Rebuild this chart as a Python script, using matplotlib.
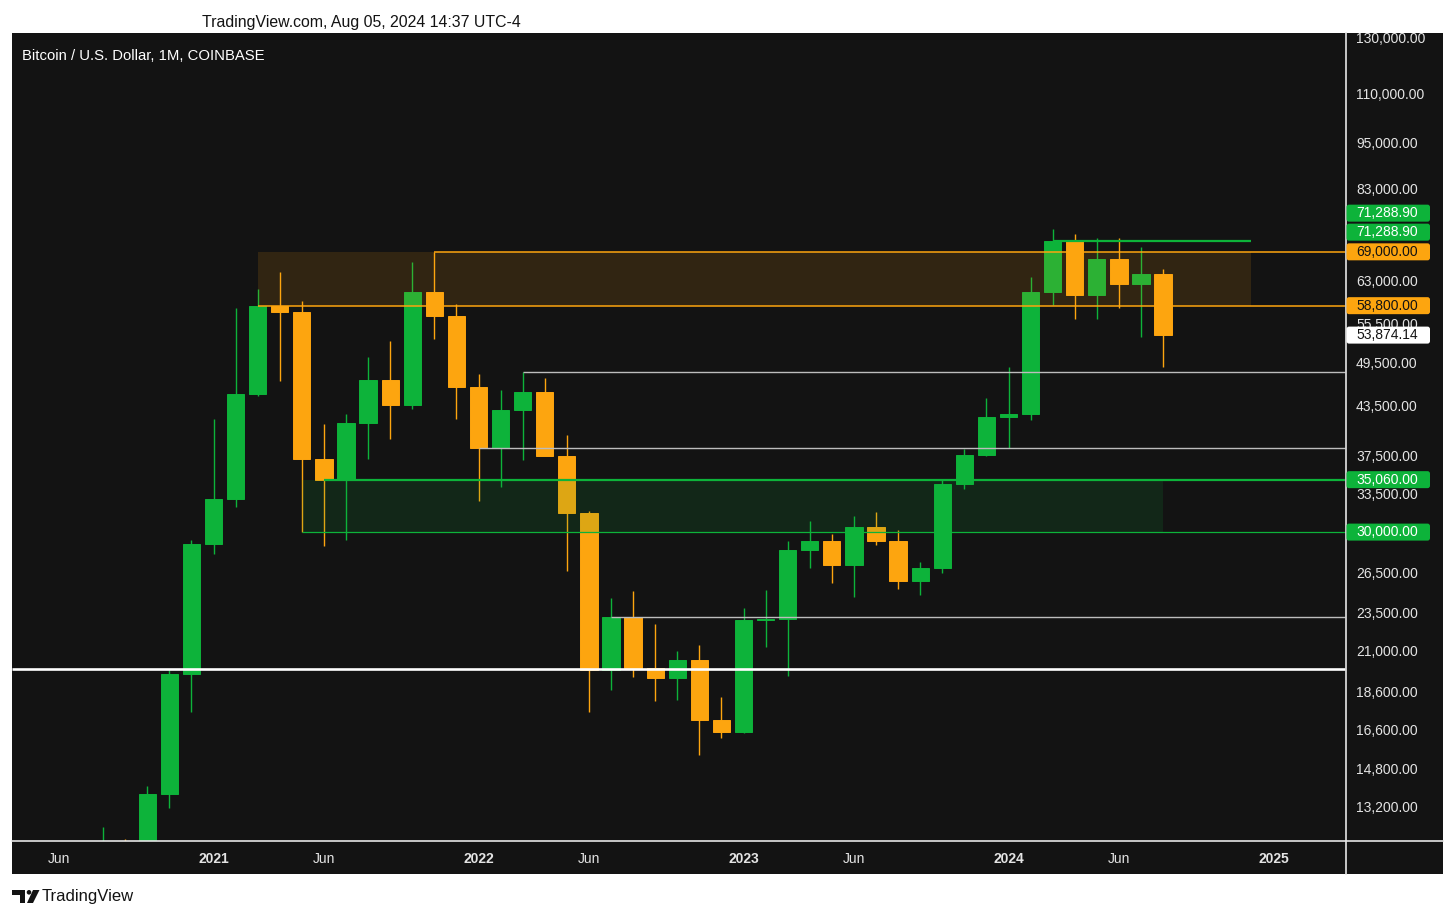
import matplotlib
matplotlib.use('Agg')
import matplotlib.pyplot as plt
import numpy as np
from matplotlib.patches import Rectangle, FancyBboxPatch, Polygon, Circle
from matplotlib.lines import Line2D
from matplotlib.transforms import IdentityTransform, blended_transform_factory

plt.rcParams['font.family'] = ['Liberation Sans', 'DejaVu Sans']

# ---------------- data (BTC/USD monthly, Coinbase) ----------------
months = ['2020-06', '2020-07', '2020-08', '2020-09', '2020-10', '2020-11', '2020-12',
          '2021-01', '2021-02', '2021-03', '2021-04', '2021-05', '2021-06', '2021-07',
          '2021-08', '2021-09', '2021-10', '2021-11', '2021-12',
          '2022-01', '2022-02', '2022-03', '2022-04', '2022-05', '2022-06', '2022-07',
          '2022-08', '2022-09', '2022-10', '2022-11', '2022-12',
          '2023-01', '2023-02', '2023-03', '2023-04', '2023-05', '2023-06', '2023-07',
          '2023-08', '2023-09', '2023-10', '2023-11', '2023-12',
          '2024-01', '2024-02', '2024-03', '2024-04', '2024-05', '2024-06', '2024-07',
          '2024-08']
opens = [9445, 9137, 11335, 11644, 10777, 13783, 19700,
         28990, 33114, 45161, 58786, 57720, 37298, 35060,
         41460, 47130, 43824, 61318, 57005,
         46217, 38466, 43178, 45525, 37644, 31792, 19926,
         23297, 20050, 19423, 20490, 17166,
         16542, 23130, 23147, 28475, 29250, 27216, 30472,
         29232, 25940, 26967, 34650, 37723,
         42280, 42580, 61180, 71289, 60640, 67500, 62700,
         64620]
highs = [10380, 11444, 12473, 12066, 14100, 19918, 29300,
         41950, 58367, 61788, 64895, 59592, 41330, 42600,
         50500, 52920, 67000, 69000, 59100,
         47990, 45821, 48240, 47444, 40023, 31982, 24668,
         25212, 22800, 21085, 21480, 18388,
         23960, 25250, 29190, 31000, 29820, 31431, 31862,
         30222, 27484, 35000, 38432, 44729,
         48970, 64000, 73835, 72800, 71950, 71980, 70000,
         65600]
lows = [8900, 8977, 10966, 9825, 10380, 13200, 17572,
        28130, 32300, 44960, 47044, 30000, 28800, 29278,
        37332, 39600, 43300, 53256, 42000,
        32950, 34322, 37155, 37702, 26700, 17592, 18781,
        19520, 18153, 18190, 15476, 16256,
        16500, 21350, 19568, 26942, 25811, 24750, 28862,
        25333, 24901, 26540, 34100, 37640,
        38501, 41880, 59000, 56500, 56555, 58400, 53500,
        49000]
closes = [9137, 11335, 11644, 10777, 13783, 19700, 28990,
          33114, 45161, 58786, 57720, 37298, 35060, 41460,
          47130, 43824, 61318, 57005, 46217,
          38466, 43178, 45525, 37644, 31792, 19926, 23297,
          20050, 19423, 20490, 17166, 16542,
          23130, 23147, 28475, 29250, 27216, 30472, 29232,
          25940, 26967, 34650, 37723, 42280,
          42580, 61180, 71289, 60640, 67500, 62700, 64620,
          53874.14]

# drawings: zones (start month, end month, low, high)
zone_start = ['2021-03', '2021-05']
zone_end = ['2024-12', '2024-08']
zone_low = [58800, 30000]
zone_high = [69000, 35060]
# horizontal rays (start month, price)
ray_start = ['2021-11', '2021-03', '2021-06', '2021-05', '2022-03', '2022-01', '2022-07']
ray_price = [69000, 58800, 35060, 30000, 48240, 38466, 23297]
seg_start, seg_end, seg_price = '2024-03', '2024-12', 71288.90
hline_price = 20000

price_ticks = [130000, 110000, 95000, 83000, 63000, 55500, 49500, 43500, 37500,
               33500, 29800, 26500, 23500, 21000, 18600, 16600, 14800, 13200]
time_ticks = ['2020-06', '2021-01', '2021-06', '2022-01', '2022-06', '2023-01',
              '2023-06', '2024-01', '2024-06', '2025-01']
time_labels = ['Jun', '2021', 'Jun', '2022', 'Jun', '2023', 'Jun', '2024', 'Jun', '2025']


def midx(s):
    y, m = s.split('-')
    return (int(y) - 2021) * 12 + int(m) - 1


# ---------------- style ----------------
W, H = 1456, 918
BG = '#131313'
GREEN = '#0db33a'
ORANGE = '#fda50f'
GREY = '#bdbdbd'
TXT = '#e4e4e4'
SEP = '#e6e6e6'

fig = plt.figure(figsize=(W / 100, H / 100), dpi=100)
fig.patch.set_facecolor('white')


def fr(x0, y0, x1, y1):
    return [x0 / W, 1 - y1 / H, (x1 - x0) / W, (y1 - y0) / H]


fig.patches.append(Rectangle((12 / W, 1 - 874 / H), (1443 - 12) / W, (874 - 33.3) / H,
                             transform=fig.transFigure, facecolor=BG, edgecolor='none',
                             zorder=-10))

XL = (-9.125, 51.26)
YL = (11990, 132100)

ax = fig.add_axes(fr(12, 33.3, 1345.5, 840.7))
ax.set_yscale('log')
ax.set_xlim(*XL)
ax.set_ylim(*YL)
ax.set_axis_off()

x = np.array([midx(m) for m in months], dtype=float)
o = np.array(opens, dtype=float)
h = np.array(highs, dtype=float)
l = np.array(lows, dtype=float)
c = np.array(closes, dtype=float)
cols = [GREEN if cc >= oo else ORANGE for oo, cc in zip(o, c)]

ax.vlines(x, l, h, colors=cols, lw=1.0, zorder=2)
ax.bar(x, np.abs(c - o), bottom=np.minimum(o, c), width=0.78, color=cols,
       edgecolor=cols, linewidth=0.7, zorder=3)

# zones
for zs, ze, zl, zh, col in zip(zone_start, zone_end, zone_low, zone_high, [ORANGE, GREEN]):
    ax.fill_between([midx(zs), midx(ze)], [zl, zl], [zh, zh], color=col, alpha=0.13,
                    lw=0, zorder=4)

# rays
ray_cols = [ORANGE, ORANGE, GREEN, GREEN, GREY, GREY, GREY]
ray_lw = [1.1, 1.1, 1.6, 0.9, 1.0, 1.0, 1.0]
for rs, rp, col, lw in zip(ray_start, ray_price, ray_cols, ray_lw):
    ax.hlines(rp, midx(rs), XL[1], colors=col, lw=lw, zorder=5)
ax.hlines(seg_price, midx(seg_start), midx(seg_end), colors=GREEN, lw=1.6, zorder=5)
ax.hlines(hline_price, XL[0], XL[1], colors='white', lw=1.9, zorder=5)

# chart title
fig.text(22 / W, 1 - 56 / H, 'Bitcoin / U.S. Dollar, 1M, COINBASE', color='white',
         fontsize=10.7, va='center', ha='left')

# price axis
ax_p = fig.add_axes(fr(1345.5, 33.3, 1443, 840.7))
ax_p.set_yscale('log')
ax_p.set_ylim(*YL)
ax_p.set_xlim(0, 1)
ax_p.set_axis_off()
tp = blended_transform_factory(ax_p.transAxes, ax_p.transData)
for v in price_ticks:
    ax_p.text(0.108, v, f'{v:,.2f}', transform=tp, va='center', ha='left', color=TXT,
              fontsize=10, clip_on=True)

# time axis
ax_t = fig.add_axes(fr(12, 840.7, 1345.5, 874))
ax_t.set_xlim(*XL)
ax_t.set_ylim(0, 1)
ax_t.set_axis_off()
for tt, lab in zip(time_ticks, time_labels):
    ax_t.text(midx(tt), 0.45, lab, ha='center', va='center', color=TXT, fontsize=10,
              fontweight='bold' if lab != 'Jun' else 'normal')

# separators
fig.lines.append(Line2D([12 / W, 1443 / W], [1 - 840.7 / H] * 2, transform=fig.transFigure,
                        color=SEP, lw=1.2, zorder=3))
fig.lines.append(Line2D([1345.5 / W] * 2, [1 - 33.3 / H, 1 - 874 / H], transform=fig.transFigure,
                        color=SEP, lw=1.2, zorder=3))

# price badges
badge_prices = [71288.90, 71288.90, 69000, 58800, 53874.14, 35060, 30000]
badge_fc = [GREEN, GREEN, ORANGE, ORANGE, 'white', GREEN, GREEN]
badge_tc = ['white', 'white', '#131313', '#131313', '#131313', 'white', 'white']
badge_dy = [27.7, 8.7, 0, 0, 0, 0, 0]
for bp, fc, tc, dy in zip(badge_prices, badge_fc, badge_tc, badge_dy):
    yd = ax_p.transData.transform((0, bp))[1] + dy
    fig.patches.append(FancyBboxPatch((1346.5, yd - 8.5), 83.5, 17,
                                      boxstyle='round,pad=0,rounding_size=2.5',
                                      transform=IdentityTransform(), facecolor=fc,
                                      edgecolor='none', zorder=5))
    fig.text(1356, yd, f'{bp:,.2f}', transform=IdentityTransform(), color=tc,
             fontsize=10, va='center', ha='left', zorder=6)

# header / footer
fig.text(202 / W, 1 - 22 / H, 'TradingView.com, Aug 05, 2024 14:37 UTC-4', color='#131313',
         fontsize=11.4, va='center', ha='left')
fig.text(41.5 / W, 1 - 897 / H, 'TradingView', color='#131313', fontsize=12,
         va='center', ha='left')
# logo
fig.patches.append(Rectangle((12.3, H - 894.5), 12.7, 4.5, transform=IdentityTransform(),
                             facecolor='#131313', edgecolor='none', zorder=5))
fig.patches.append(Rectangle((19.5, H - 903), 5.5, 13, transform=IdentityTransform(),
                             facecolor='#131313', edgecolor='none', zorder=5))
fig.patches.append(Circle((29, H - 892.3), 2.3, transform=IdentityTransform(),
                          facecolor='#131313', edgecolor='none', zorder=5))
fig.patches.append(Polygon([(33, H - 890), (39.5, H - 890), (33, H - 903), (27, H - 903)],
                           closed=True, transform=IdentityTransform(), facecolor='#131313',
                           edgecolor='none', zorder=5))

fig.savefig('out.png', dpi=100, facecolor='white')
